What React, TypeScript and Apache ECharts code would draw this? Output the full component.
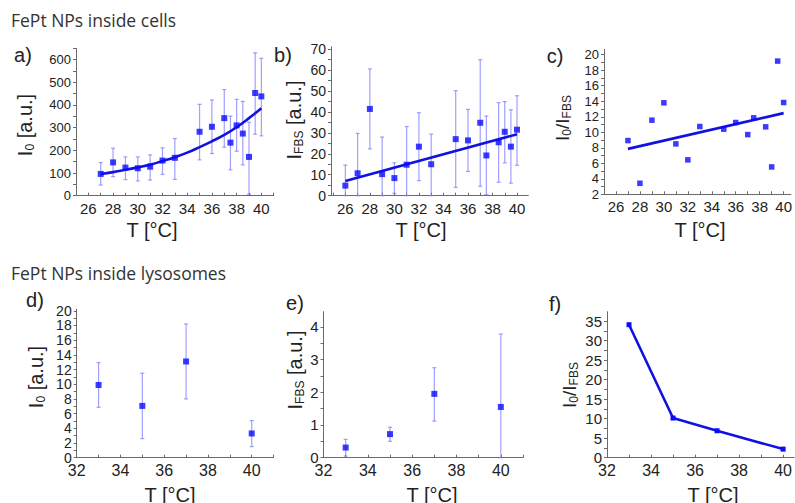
import React, { useEffect, useRef } from "react";
import * as echarts from "echarts";

// ---------- Data ----------
// a) I0 inside cells
const tA = [27, 28, 29, 30, 31, 32, 33, 35, 36, 37, 37.5, 38, 38.5, 39, 39.5, 40];
const iA = [96, 147, 124, 121, 128, 155, 167, 282, 304, 342, 234, 310, 274, 171, 453, 438];
const iALow = [47, 84, 71, 65, 69, 94, 72, 158, 186, 214, 114, 196, 136, 6, 271, 264];
const iAHigh = [146, 209, 171, 171, 180, 211, 252, 403, 422, 468, 351, 425, 416, 324, 630, 606];
const fitAT = [27, 28, 29, 30, 31, 32, 33, 34, 35, 36, 37, 38, 39, 40];
const fitAV = [96, 104, 114, 125, 137, 153, 170, 190, 214, 240, 268, 302, 342, 386];

// b) IFBS inside cells
const tB = [26, 27, 28, 29, 30, 31, 32, 33, 35, 36, 37, 37.5, 38.5, 39, 39.5, 40];
const iB = [4.8, 10.7, 41.4, 10.3, 8.4, 14.8, 23.4, 15, 27, 26.4, 34.8, 19.2, 25.5, 30.5, 23.4, 31.5];
const iBLow = [0, 0, 22.3, 0, 1.1, 0, 7.2, 0, 4, 11.6, 4.5, 0.5, 6.4, 15.7, 6, 14.5];
const iBHigh = [14.6, 29.7, 60.5, 28, 15.7, 33, 39.6, 29.4, 50.1, 41.2, 64.9, 38, 44.4, 44.9, 41, 47.7];
const fitBT = [26, 40];
const fitBV = [7.0, 29.3];

// c) I0/IFBS inside cells
const tC = [27, 28, 29, 30, 31, 32, 33, 35, 36, 37, 37.5, 38.5, 39, 39.5, 40];
const rC = [8.93, 3.42, 11.56, 13.8, 8.5, 6.44, 10.74, 10.4, 11.26, 9.7, 11.86, 10.7, 5.53, 19.18, 13.84];
const fitCT = [27, 40];
const fitCV = [7.86, 12.47];

// d), e), f) inside lysosomes
const tL = [33, 35, 37, 40];
const iD = [9.9, 7.05, 13.1, 3.3];
const iDLow = [6.86, 2.6, 8, 1.5];
const iDHigh = [12.95, 11.5, 18.2, 5.05];
const iE = [0.31, 0.72, 1.95, 1.55];
const iELow = [0.05, 0.5, 1.12, 0];
const iEHigh = [0.56, 0.93, 2.75, 3.78];
const rF = [34.07, 10.16, 6.9, 2.2];

// ---------- Tick labels ----------
const xLabelsCells = [26, 28, 30, 32, 34, 36, 38, 40];
const xTicksCells = [25, 26, 27, 28, 29, 30, 31, 32, 33, 34, 35, 36, 37, 38, 39, 40, 41];
const xLabelsLyso = [32, 34, 36, 38, 40];
const xTicksLyso = [32, 33, 34, 35, 36, 37, 38, 39, 40, 41];
const yLabelsA = [0, 100, 200, 300, 400, 500, 600];
const yTicksA = [0, 50, 100, 150, 200, 250, 300, 350, 400, 450, 500, 550, 600, 650];
const yLabelsB = [0, 10, 20, 30, 40, 50, 60, 70];
const yTicksB = [0, 5, 10, 15, 20, 25, 30, 35, 40, 45, 50, 55, 60, 65, 70];
const yLabelsC = [2, 4, 6, 8, 10, 12, 14, 16, 18, 20];
const yTicksC = [2, 3, 4, 5, 6, 7, 8, 9, 10, 11, 12, 13, 14, 15, 16, 17, 18, 19, 20];
const yLabelsD = [0, 2, 4, 6, 8, 10, 12, 14, 16, 18, 20];
const yTicksD = [0, 1, 2, 3, 4, 5, 6, 7, 8, 9, 10, 11, 12, 13, 14, 15, 16, 17, 18, 19, 20];
const yLabelsE = [0, 1, 2, 3, 4];
const yTicksE = [0, 0.5, 1, 1.5, 2, 2.5, 3, 3.5, 4];
const yLabelsF = [0, 5, 10, 15, 20, 25, 30, 35];
const yTicksF = [0, 2.5, 5, 7.5, 10, 12.5, 15, 17.5, 20, 22.5, 25, 27.5, 30, 32.5, 35];

// ---------- Styles ----------
const AX = "#6a6a6a";
const LBL = "#222";
const FONT = "'Liberation Sans', Arial, sans-serif";
const TFONT = "'Open Sans', sans-serif";
const PT = "#0a0aff";
const LINE = "#1212e0";
const ERR = "rgba(120,120,255,0.7)";

function xAxis(grid: number, min: number, max: number, labels: number[], ticks: number[], fs: number) {
  return {
    type: "value",
    gridIndex: grid,
    min,
    max,
    axisLine: { show: true, onZero: false, lineStyle: { color: AX, width: 1 } },
    axisTick: { show: true, inside: true, length: 3, customValues: ticks, lineStyle: { color: AX } },
    axisLabel: { customValues: labels, fontSize: fs, color: LBL, margin: 5, fontFamily: FONT },
    splitLine: { show: false },
  };
}

function yAxis(grid: number, min: number, max: number, labels: number[], ticks: number[], fs: number) {
  return {
    type: "value",
    gridIndex: grid,
    min,
    max,
    axisLine: { show: true, onZero: false, lineStyle: { color: AX, width: 1 } },
    axisTick: { show: true, inside: false, length: 3, customValues: ticks, lineStyle: { color: AX } },
    axisLabel: { customValues: labels, fontSize: fs, color: LBL, margin: 5, fontFamily: FONT },
    splitLine: { show: false },
  };
}

function errSeries(idx: number, xs: number[], lo: number[], hi: number[]) {
  return {
    type: "custom",
    xAxisIndex: idx,
    yAxisIndex: idx,
    silent: true,
    z: 1,
    encode: { x: 0, y: [1, 2] },
    data: xs.map((x, i) => [x, lo[i], hi[i]]),
    renderItem: (_p: any, api: any) => {
      const x = api.value(0);
      const a = api.coord([x, api.value(1)]);
      const b = api.coord([x, api.value(2)]);
      const w = 2;
      const st = { stroke: ERR, lineWidth: 1.2 };
      return {
        type: "group",
        children: [
          { type: "line", shape: { x1: a[0], y1: a[1], x2: b[0], y2: b[1] }, style: st },
          { type: "line", shape: { x1: a[0] - w, y1: a[1], x2: a[0] + w, y2: a[1] }, style: st },
          { type: "line", shape: { x1: b[0] - w, y1: b[1], x2: b[0] + w, y2: b[1] }, style: st },
        ],
      };
    },
  };
}

function pts(idx: number, xs: number[], ys: number[], size: number) {
  return {
    type: "scatter",
    xAxisIndex: idx,
    yAxisIndex: idx,
    symbol: "rect",
    symbolSize: size,
    itemStyle: { color: PT },
    z: 3,
    data: xs.map((x, i) => [x, ys[i]]),
  };
}

function fit(idx: number, xs: number[], ys: number[], smooth: boolean) {
  return {
    type: "line",
    xAxisIndex: idx,
    yAxisIndex: idx,
    showSymbol: false,
    smooth,
    lineStyle: { color: LINE, width: 2.6 },
    z: 2,
    data: xs.map((x, i) => [x, ys[i]]),
  };
}

function yTitle(cx: number, cy: number, sub: string, rest: string, fs: number) {
  return {
    type: "text",
    x: cx,
    y: cy,
    rotation: Math.PI / 2,
    style: {
      text: `{m|I}{s|${sub}}{m|${rest}}`,
      align: "center",
      verticalAlign: "middle",
      rich: {
        m: { fontSize: fs, fontFamily: FONT, fill: LBL },
        s: { fontSize: Math.round(fs * 0.62), fontFamily: FONT, fill: LBL, padding: [Math.round(fs * 0.5), 0, 0, 0] },
      },
    },
  };
}

function ratioTitle(cx: number, cy: number, fs: number) {
  return {
    type: "text",
    x: cx,
    y: cy,
    rotation: Math.PI / 2,
    style: {
      text: `{m|I}{s|0}{m|/I}{s|FBS}`,
      align: "center",
      verticalAlign: "middle",
      rich: {
        m: { fontSize: fs, fontFamily: FONT, fill: LBL },
        s: { fontSize: Math.round(fs * 0.62), fontFamily: FONT, fill: LBL, padding: [Math.round(fs * 0.5), 0, 0, 0] },
      },
    },
  };
}

function txt(x: number, y: number, s: string, fs: number, family: string, align = "center", color = LBL) {
  return {
    type: "text",
    x,
    y,
    style: { text: s, fontSize: fs, fontFamily: family, fill: color, align, verticalAlign: "middle" },
  };
}

export default function App() {
  const ref = useRef<HTMLDivElement>(null);
  useEffect(() => {
    if (!ref.current) return;
    const chart = echarts.init(ref.current, undefined, { renderer: "svg" });
    const option = {
      animation: false,
      backgroundColor: "#ffffff",
      grid: [
        { left: 76, top: 48.3, width: 197.7, height: 147.4 },
        { left: 331, top: 46.7, width: 197.3, height: 149 },
        { left: 604, top: 49.3, width: 192, height: 145 },
        { left: 76.7, top: 309.3, width: 196.9, height: 148.4 },
        { left: 323.5, top: 311.7, width: 199.5, height: 146 },
        { left: 607, top: 311.7, width: 188, height: 146 },
      ],
      xAxis: [
        xAxis(0, 25, 41, xLabelsCells, xTicksCells, 15),
        xAxis(1, 24.83, 40.92, xLabelsCells, xTicksCells, 15),
        xAxis(2, 25, 40.6, xLabelsCells, xTicksCells, 15),
        xAxis(3, 32, 41, xLabelsLyso, xTicksLyso, 16),
        xAxis(4, 32, 41, xLabelsLyso, xTicksLyso, 16),
        xAxis(5, 32, 40.5, xLabelsLyso, xTicksLyso, 16),
      ],
      yAxis: [
        yAxis(0, 0, 650, yLabelsA, yTicksA, 13),
        yAxis(1, 0, 71.1, yLabelsB, yTicksB, 14),
        yAxis(2, 2, 20.7, yLabelsC, yTicksC, 13),
        yAxis(3, 0, 20.2, yLabelsD, yTicksD, 14),
        yAxis(4, 0, 4.46, yLabelsE, yTicksE, 15),
        yAxis(5, 0, 37.4, yLabelsF, yTicksF, 15),
      ],
      series: [
        errSeries(0, tA, iALow, iAHigh),
        fit(0, fitAT, fitAV, true),
        pts(0, tA, iA, 6),
        errSeries(1, tB, iBLow, iBHigh),
        fit(1, fitBT, fitBV, false),
        pts(1, tB, iB, 6),
        fit(2, fitCT, fitCV, false),
        pts(2, tC, rC, 5.5),
        errSeries(3, tL, iDLow, iDHigh),
        pts(3, tL, iD, 6),
        errSeries(4, tL, iELow, iEHigh),
        pts(4, tL, iE, 6),
        {
          type: "line",
          xAxisIndex: 5,
          yAxisIndex: 5,
          symbol: "rect",
          symbolSize: 5,
          showSymbol: true,
          lineStyle: { color: LINE, width: 2.6 },
          itemStyle: { color: PT },
          data: tL.map((x, i) => [x, rF[i]]),
        },
      ],
      graphic: [
        txt(11, 20, "FePt NPs inside cells", 17.5, TFONT, "left", "#333"),
        txt(11, 273, "FePt NPs inside lysosomes", 17.5, TFONT, "left", "#333"),
        txt(23, 55, "a)", 20, FONT),
        txt(283, 55, "b)", 20, FONT),
        txt(555, 56, "c)", 20, FONT),
        txt(35, 300, "d)", 20, FONT),
        txt(295, 303, "e)", 20, FONT),
        txt(555, 304, "f)", 20, FONT),
        yTitle(25, 125, "0", " [a.u.]", 20),
        yTitle(294, 120, "FBS", " [a.u.]", 20),
        ratioTitle(562, 118, 19),
        yTitle(36, 377, "0", " [a.u.]", 20),
        yTitle(295, 370, "FBS", " [a.u.]", 20),
        ratioTitle(569, 385, 19),
        txt(152, 230, "T [°C]", 20, FONT),
        txt(421, 230, "T [°C]", 20, FONT),
        txt(700, 230, "T [°C]", 20, FONT),
        txt(170, 495, "T [°C]", 20, FONT),
        txt(432, 495, "T [°C]", 20, FONT),
        txt(713, 495, "T [°C]", 20, FONT),
      ],
    };
    chart.setOption(option as any);
    return () => chart.dispose();
  }, []);
  return (
    <div
      ref={ref}
      style={{ position: "fixed", left: 0, top: 0, width: 795, height: 503, background: "#fff" }}
    />
  );
}
